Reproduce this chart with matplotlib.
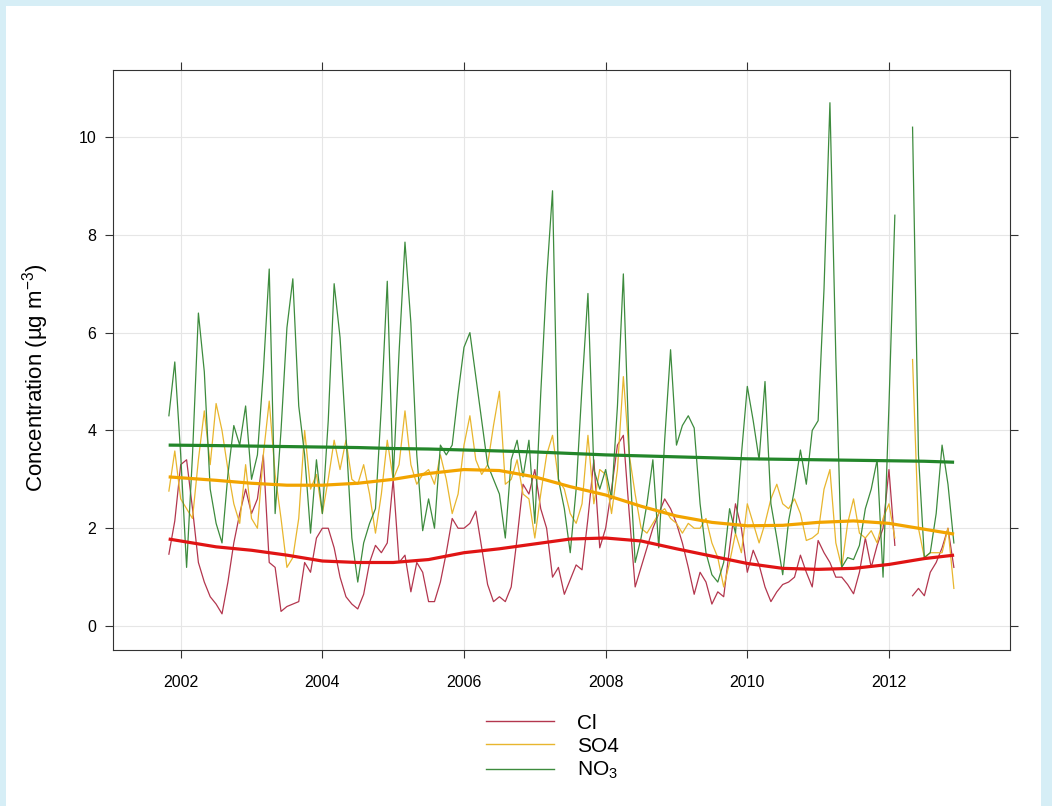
#!/usr/bin/env python3

import numpy as np
import pandas as pd
import matplotlib
matplotlib.use("Agg")
import matplotlib.pyplot as plt
from matplotlib.lines import Line2D
from matplotlib.patches import Rectangle

plt.rcParams['font.family'] = ['Liberation Sans', 'DejaVu Sans']
plt.rcParams['mathtext.fontset'] = 'custom'
plt.rcParams['mathtext.rm'] = 'Liberation Sans'
plt.rcParams['mathtext.it'] = 'Liberation Sans'

nan = np.nan

# monthly values, Nov 2001 .. Dec 2012
start_month = "2001-11-01"

cl = [1.47, 2.15, 3.3, 3.4, 2.4, 1.3, 0.9, 0.6, 0.45, 0.25,
      0.9, 1.7, 2.3, 2.8, 2.3, 2.6, 3.5, 1.3, 1.2, 0.3,
      0.4, 0.45, 0.5, 1.3, 1.1, 1.8, 2.0, 2.0, 1.6, 1.0,
      0.6, 0.45, 0.35, 0.65, 1.3, 1.65, 1.5, 1.7, 3.0, 1.3,
      1.45, 0.7, 1.3, 1.1, 0.5, 0.5, 0.9, 1.5, 2.2, 2.0,
      2.0, 2.1, 2.35, 1.6, 0.85, 0.5, 0.6, 0.5, 0.8, 1.8,
      2.9, 2.7, 3.2, 2.4, 2.0, 1.0, 1.2, 0.65, 0.95, 1.25,
      1.15, 2.2, 3.4, 1.6, 2.0, 2.8, 3.7, 3.9, 2.3, 0.8,
      1.2, 1.6, 2.0, 2.3, 2.6, 2.4, 2.1, 1.7, 1.2, 0.65,
      1.1, 0.9, 0.45, 0.7, 0.6, 1.6, 2.5, 2.0, 1.1, 1.55,
      1.25, 0.8, 0.5, 0.7, 0.85, 0.9, 1.0, 1.45, 1.1, 0.8,
      1.75, 1.5, 1.3, 1.0, 1.0, 0.85, 0.66, 1.1, 1.8, 1.2,
      1.65, 2.0, 3.2, 1.65, nan, nan, 0.62, 0.77, 0.62, 1.1,
      1.3, 1.6, 2.0, 1.2]

so4 = [2.76, 3.58, 2.6, 2.4, 2.2, 3.4, 4.4, 3.3, 4.55, 4.0,
       3.2, 2.5, 2.1, 3.3, 2.2, 2.0, 3.5, 4.6, 3.1, 2.2,
       1.2, 1.4, 2.2, 4.0, 2.8, 3.1, 2.3, 3.0, 3.8, 3.2,
       3.8, 3.0, 2.9, 3.3, 2.7, 1.9, 2.7, 3.8, 3.0, 3.3,
       4.4, 3.3, 2.9, 3.1, 3.2, 2.9, 3.5, 3.0, 2.3, 2.7,
       3.7, 4.3, 3.4, 3.1, 3.3, 4.1, 4.8, 2.9, 3.0, 3.4,
       2.7, 2.6, 1.8, 2.7, 3.5, 3.9, 3.0, 2.8, 2.3, 2.1,
       2.5, 3.9, 2.5, 3.2, 3.1, 2.3, 3.2, 5.1, 3.5, 2.7,
       2.0, 1.9, 2.1, 2.3, 2.4, 2.2, 2.1, 1.9, 2.1, 2.0,
       2.0, 2.2, 1.7, 1.4, 0.8, 1.3, 1.9, 1.5, 2.5, 2.1,
       1.7, 2.1, 2.6, 2.9, 2.5, 2.4, 2.6, 2.3, 1.75, 1.8,
       1.9, 2.8, 3.2, 1.7, 1.2, 2.1, 2.6, 1.9, 1.8, 1.95,
       1.7, 2.2, 2.5, 1.8, nan, nan, 5.45, 2.0, 1.4, 1.5,
       1.5, 1.5, 2.0, 0.77]

no3 = [4.3, 5.4, 3.5, 1.2, 3.5, 6.4, 5.2, 2.8, 2.1, 1.7,
       3.1, 4.1, 3.7, 4.5, 3.0, 3.5, 5.2, 7.3, 2.3, 4.0,
       6.1, 7.1, 4.5, 3.5, 1.9, 3.4, 2.3, 4.2, 7.0, 5.9,
       3.9, 1.8, 0.9, 1.7, 2.1, 2.4, 4.5, 7.05, 3.0, 5.6,
       7.85, 6.2, 3.5, 1.95, 2.6, 2.0, 3.7, 3.5, 3.7, 4.75,
       5.7, 6.0, 5.1, 4.2, 3.3, 3.0, 2.7, 1.8, 3.4, 3.8,
       3.05, 3.8, 2.1, 4.75, 7.1, 8.9, 3.0, 2.4, 1.5, 2.8,
       4.9, 6.8, 3.2, 2.8, 3.2, 2.6, 4.5, 7.2, 3.5, 1.3,
       1.8, 2.5, 3.4, 1.6, 3.8, 5.65, 3.7, 4.1, 4.3, 4.05,
       2.5, 1.5, 1.05, 0.9, 1.3, 2.4, 1.9, 3.5, 4.9, 4.2,
       3.4, 5.0, 2.5, 1.8, 1.05, 2.15, 2.8, 3.6, 2.9, 4.0,
       4.2, 6.9, 10.7, 5.5, 1.2, 1.4, 1.36, 1.65, 2.4, 2.8,
       3.4, 1.0, 4.5, 8.4, nan, nan, 10.2, 3.5, 1.4, 1.5,
       2.3, 3.7, 2.9, 1.7]

# smooth trends
trend_years = [2001.83, 2002.5, 2003.0, 2003.5, 2004.0, 2004.5, 2005.0, 2005.5,
               2006.0, 2006.5, 2007.0, 2007.5, 2008.0, 2008.5, 2009.0, 2009.5,
               2010.0, 2010.5, 2011.0, 2011.5, 2012.0, 2012.5, 2012.92]
cl_trend = [1.78, 1.62, 1.55, 1.45, 1.33, 1.30, 1.30, 1.36, 1.50, 1.58, 1.68, 1.78,
            1.80, 1.74, 1.58, 1.43, 1.28, 1.18, 1.16, 1.18, 1.26, 1.38, 1.45]
so4_trend = [3.05, 2.98, 2.92, 2.88, 2.88, 2.92, 3.00, 3.12, 3.20, 3.18, 3.05, 2.85,
             2.68, 2.45, 2.25, 2.12, 2.05, 2.06, 2.12, 2.15, 2.10, 1.98, 1.88]
no3_trend = [3.70, 3.69, 3.68, 3.67, 3.66, 3.65, 3.63, 3.62, 3.60, 3.58, 3.56, 3.53,
             3.50, 3.48, 3.46, 3.44, 3.42, 3.41, 3.40, 3.39, 3.38, 3.37, 3.35]

labels = ["Cl", "SO4", "NO$_3$"]
raw_colors = ["#b3364e", "#e8b62e", "#3d8b3d"]
trend_colors = ["#e01414", "#f2a400", "#23862a"]

year_ticks = [2002, 2004, 2006, 2008, 2010, 2012]
conc_ticks = [0, 2, 4, 6, 8, 10]


def _decimal_years(start, n):
    d = pd.date_range(start, periods=n, freq="MS")
    return d.year + (d.month - 1) / 12.0


def _main():
    fig = plt.figure(figsize=(10.52, 8.06), dpi=100)
    fig.patch.set_facecolor("white")

    # light blue page border
    for r in [(0, 0, 0.006, 1), (0, 0.993, 1, 0.007), (0.99, 0, 0.01, 1)]:
        fig.patches.append(Rectangle(r[:2], r[2], r[3], transform=fig.transFigure,
                                     facecolor="#d6eef6", edgecolor="none", zorder=0))

    ax = fig.add_axes([0.1074, 0.1935, 0.8526, 0.7197])

    x = _decimal_years(start_month, len(no3))
    series = [cl, so4, no3]
    trends = [cl_trend, so4_trend, no3_trend]

    for vals, col in zip(series, raw_colors):
        ax.plot(x, vals, color=col, linewidth=0.9, zorder=2)
    for vals, col in zip(trends, trend_colors):
        ax.plot(trend_years, vals, color=col, linewidth=2.3, zorder=3,
                solid_capstyle="butt")

    ax.set_xlim(2001.044, 2013.708)
    ax.set_ylim(-0.49, 11.37)
    ax.set_xticks(year_ticks)
    ax.set_xticklabels([str(t) for t in year_ticks])
    ax.set_yticks(conc_ticks)
    ax.set_yticklabels([str(t) for t in conc_ticks])

    ax.grid(True, color="#e6e6e6", linewidth=0.8)
    ax.set_axisbelow(True)
    for s in ax.spines.values():
        s.set_color("#333333")
        s.set_linewidth(0.8)
    ax.tick_params(direction="out", length=6, width=0.8, color="#333333",
                   top=True, right=True, labelsize=11.5)
    ax.tick_params(axis="x", pad=12)
    ax.tick_params(axis="y", pad=6)

    ax.set_ylabel("Concentration (µg m$^{-3}$)", fontsize=16)
    ax.yaxis.set_label_coords(-0.069, 0.47)

    handles = [Line2D([], [], color=c, linewidth=1.0) for c in raw_colors]
    fig.legend(handles, labels, loc="upper center", bbox_to_anchor=(0.525, 0.138),
               frameon=False, fontsize=15, handlelength=3.3, handletextpad=1.1,
               labelspacing=0.2)

    fig.savefig("out.png", dpi=100)


if __name__ == "__main__":
    _main()
